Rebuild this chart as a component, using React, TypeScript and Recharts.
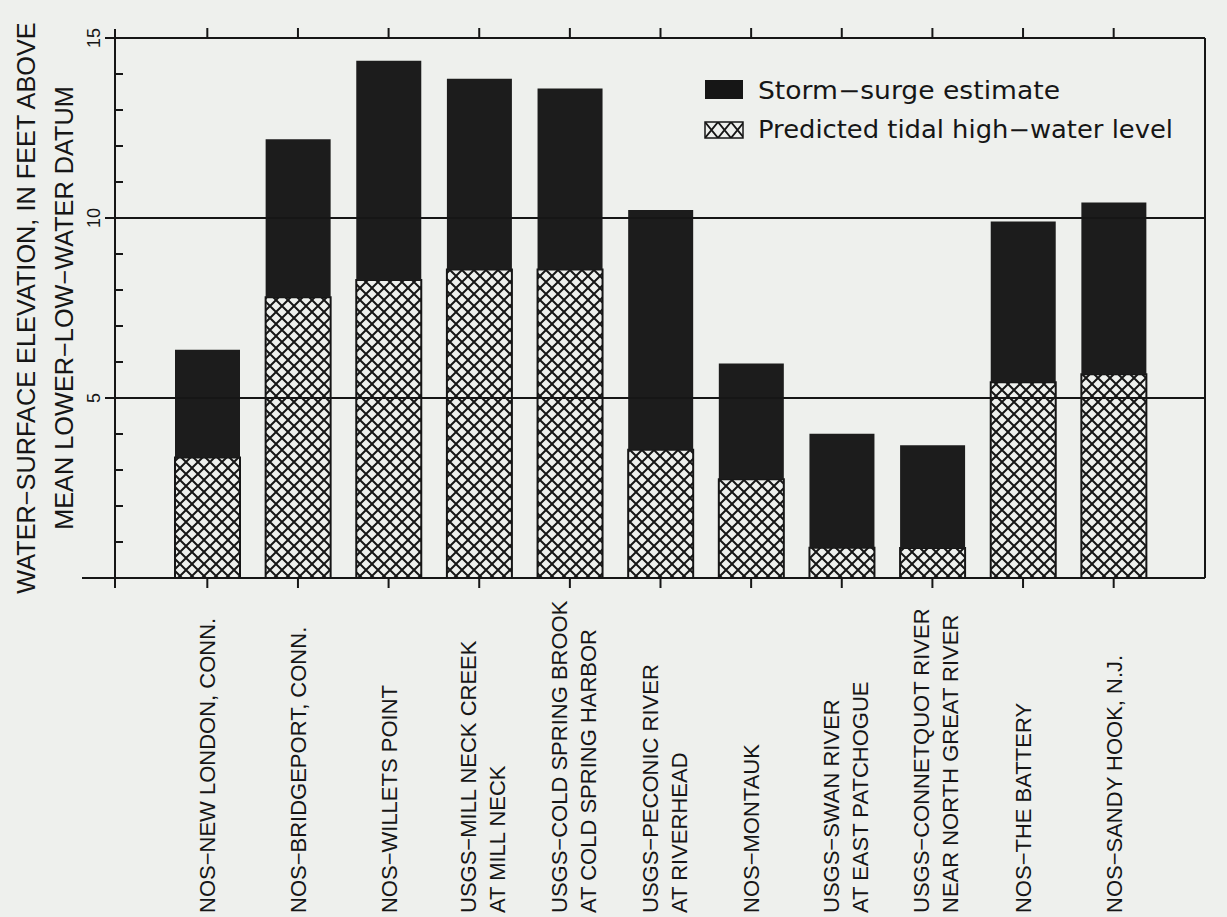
import React from 'react';
import { BarChart, Bar, XAxis, YAxis, ReferenceLine, Legend } from 'recharts';

const categories = [
  'NOS−NEW LONDON, CONN.',
  'NOS−BRIDGEPORT, CONN.',
  'NOS−WILLETS POINT',
  'USGS−MILL NECK CREEK\nAT MILL NECK',
  'USGS−COLD SPRING BROOK\nAT COLD SPRING HARBOR',
  'USGS−PECONIC RIVER\nAT RIVERHEAD',
  'NOS−MONTAUK',
  'USGS−SWAN RIVER\nAT EAST PATCHOGUE',
  'USGS−CONNETQUOT RIVER\nNEAR NORTH GREAT RIVER',
  'NOS−THE BATTERY',
  'NOS−SANDY HOOK, N.J.',
];
const tidalHighWater = [3.35, 7.8, 8.28, 8.57, 8.57, 3.56, 2.74, 0.84, 0.83, 5.44, 5.66];
const stormSurge = [2.99, 4.39, 6.09, 5.3, 5.03, 6.66, 3.22, 3.17, 2.86, 4.46, 4.77];
const yTicks = [0, 1, 2, 3, 4, 5, 6, 7, 8, 9, 10, 11, 12, 13, 14, 15];
const majorTicks = [5, 10, 15];
const gridValues = [5, 10];
const yLabelLines = ['WATER−SURFACE ELEVATION, IN FEET ABOVE', 'MEAN LOWER−LOW−WATER DATUM'];
const legendNames = { surge: 'Storm−surge estimate', tidal: 'Predicted tidal high−water level' };

const data = categories.map((c, i) => ({ name: c, tidal: tidalHighWater[i], surge: stormSurge[i] }));

const BG = '#eef0ed';
const INK = '#161616';
const FONT = '"Liberation Sans", Arial, Helvetica, sans-serif';
const LEGEND_FONT = '"DejaVu Sans", "Liberation Sans", sans-serif';

const LeftTick = (props: any) => {
  const { x, y, payload } = props;
  const v = payload.value;
  const items: any[] = [];
  if (v === 0) {
    items.push(<line key="h" x1={x - 33} x2={x} y1={y} y2={y} stroke={INK} strokeWidth={2} />);
    items.push(<line key="v" x1={x} x2={x} y1={y} y2={y + 10} stroke={INK} strokeWidth={2} />);
  } else if (majorTicks.includes(v)) {
    items.push(<line key="h" x1={x - 10} x2={x} y1={y} y2={y} stroke={INK} strokeWidth={2} />);
    items.push(
      <text key="t" x={x - 15} y={y} transform={`rotate(-90 ${x - 15} ${y})`} textAnchor="middle"
        fontSize={18} fontFamily={FONT} fill={INK}>{v}</text>
    );
    if (v === 15) items.push(<line key="v" x1={x} x2={x} y1={y - 9} y2={y} stroke={INK} strokeWidth={2} />);
  } else {
    items.push(<line key="h" x1={x} x2={x + 8} y1={y} y2={y} stroke={INK} strokeWidth={2} />);
  }
  return <g>{items}</g>;
};

const RightTick = (props: any) => {
  const { x, y, payload } = props;
  const v = payload.value;
  const items: any[] = [];
  if (v === 0) {
    items.push(<line key="h" x1={x} x2={x + 24} y1={y} y2={y} stroke={INK} strokeWidth={2} />);
    items.push(<line key="v" x1={x} x2={x} y1={y} y2={y + 10} stroke={INK} strokeWidth={2} />);
  } else if (majorTicks.includes(v)) {
    items.push(<line key="h" x1={x} x2={x + 11} y1={y} y2={y} stroke={INK} strokeWidth={2} />);
    if (v === 15) items.push(<line key="v" x1={x} x2={x} y1={y - 7} y2={y} stroke={INK} strokeWidth={2} />);
  } else {
    items.push(<line key="h" x1={x - 6} x2={x} y1={y} y2={y} stroke={INK} strokeWidth={2} />);
  }
  return <g>{items}</g>;
};

const CategoryTick = (props: any) => {
  const { x, y, payload } = props;
  const lines = String(payload.value).split('\n');
  const offsets = lines.length === 1 ? [8] : [-3, 26];
  const startY = y + 325;
  return (
    <g>
      {lines.map((ln, i) => {
        const bx = x + offsets[i];
        return (
          <text key={i} x={bx} y={startY} transform={`rotate(-90 ${bx} ${startY})`} textAnchor="start"
            fontSize={22} fontFamily={FONT} fill={INK}>{ln}</text>
        );
      })}
    </g>
  );
};

const YLabel = (props: any) => {
  const vb = props.viewBox || { x: 0, y: 38, width: 115, height: 540 };
  const cy = vb.y + vb.height / 2;
  const xs = [vb.x + 35, vb.x + 73];
  return (
    <g>
      {yLabelLines.map((ln, i) => (
        <text key={i} x={xs[i]} y={cy} transform={`rotate(-90 ${xs[i]} ${cy})`} textAnchor="middle"
          fontSize={25.3} fontFamily={FONT} fill={INK}>{ln}</text>
      ))}
    </g>
  );
};

const LegendContent = () => (
  <svg width={520} height={80} style={{ display: 'block' }}>
    <rect x={5} y={10} width={38} height={19} fill={INK} />
    <text x={58} y={29} fontSize={24} fontFamily={LEGEND_FONT} fill={INK} textLength={302} lengthAdjust="spacingAndGlyphs">
      {legendNames.surge}
    </text>
    <rect x={5} y={52} width={38} height={16} fill="url(#xhatchLegend)" stroke={INK} strokeWidth={1.5} />
    <text x={58} y={68} fontSize={24} fontFamily={LEGEND_FONT} fill={INK} textLength={415} lengthAdjust="spacingAndGlyphs">
      {legendNames.tidal}
    </text>
  </svg>
);

export default function App() {
  return (
    <div style={{ position: 'absolute', left: 0, top: 0, width: 1227, height: 917, background: BG, overflow: 'hidden' }}>
      <svg width={0} height={0} style={{ position: 'absolute' }}>
        <defs>
          <pattern id="xhatch" patternUnits="userSpaceOnUse" width={12} height={12}>
            <rect width={12} height={12} fill={BG} />
            <path d="M-1,-1 L13,13 M13,-1 L-1,13" stroke={INK} strokeWidth={2} />
          </pattern>
          <pattern id="xhatchLegend" patternUnits="userSpaceOnUse" width={13} height={16} x={5} y={52}>
            <rect width={13} height={16} fill={BG} />
            <path d="M0,0 L13,16 M13,0 L0,16" stroke={INK} strokeWidth={1.8} />
          </pattern>
        </defs>
      </svg>
      <BarChart width={1227} height={917} data={data} margin={{ top: 28, right: 0, bottom: 0, left: 0 }}>
        <XAxis dataKey="name" xAxisId="bottom" orientation="bottom" height={339} padding={{ left: 47, right: 46 }}
          interval={0} tickSize={10} tickMargin={0} tick={<CategoryTick />}
          axisLine={{ stroke: INK, strokeWidth: 2 }} tickLine={{ stroke: INK, strokeWidth: 2 }} />
        <XAxis dataKey="name" xAxisId="top" orientation="top" height={10} padding={{ left: 47, right: 46 }}
          interval={0} tickSize={10} tickFormatter={() => ''}
          axisLine={{ stroke: INK, strokeWidth: 2 }} tickLine={{ stroke: INK, strokeWidth: 2 }} />
        <YAxis yAxisId="left" orientation="left" width={115} domain={[0, 15]} ticks={yTicks} interval={0}
          type="number" tickSize={0} tickMargin={0} tick={<LeftTick />} tickLine={false}
          axisLine={{ stroke: INK, strokeWidth: 2 }} label={<YLabel />} />
        <YAxis yAxisId="right" orientation="right" width={22} domain={[0, 15]} ticks={yTicks} interval={0}
          type="number" tickSize={0} tickMargin={0} tick={<RightTick />} tickLine={false}
          axisLine={{ stroke: INK, strokeWidth: 2 }} />
        {gridValues.map((g) => (
          <ReferenceLine key={g} y={g} yAxisId="left" xAxisId="bottom" stroke={INK} strokeWidth={2} />
        ))}
        <Bar dataKey="tidal" name={legendNames.tidal} stackId="a" xAxisId="bottom" yAxisId="left" barSize={65}
          fill="url(#xhatch)" stroke={INK} strokeWidth={2} isAnimationActive={false} />
        <Bar dataKey="surge" name={legendNames.surge} stackId="a" xAxisId="bottom" yAxisId="left" barSize={65}
          fill="#1c1c1c" isAnimationActive={false} />
        <Legend layout="vertical" align="center" verticalAlign="middle" content={<LegendContent />}
          wrapperStyle={{ top: 70, left: 700, width: 520, height: 80 }} />
      </BarChart>
    </div>
  );
}
